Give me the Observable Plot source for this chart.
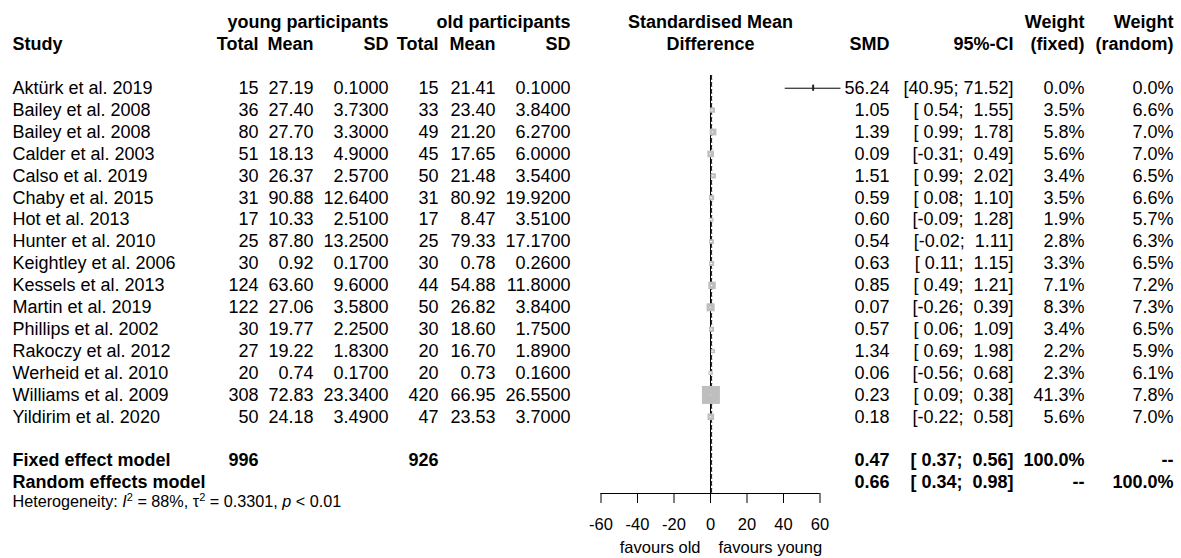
<!DOCTYPE html>
<html><head><meta charset="utf-8">
<script src="https://cdn.jsdelivr.net/npm/d3@7"></script>
<script src="https://cdn.jsdelivr.net/npm/@observablehq/plot@0.6"></script>
<style>
body{margin:0;background:#fff;}
</style>
</head><body><div id="chart"></div>
<script>
// ---------- data ----------
const studies = ["Aktürk et al. 2019","Bailey et al. 2008","Bailey et al. 2008","Calder et al. 2003","Calso et al. 2019","Chaby et al. 2015","Hot et al. 2013","Hunter et al. 2010","Keightley et al. 2006","Kessels et al. 2013","Martin et al. 2019","Phillips et al. 2002","Rakoczy et al. 2012","Werheid et al. 2010","Williams et al. 2009","Yildirim et al. 2020"];
const youngN = [15,36,80,51,30,31,17,25,30,124,122,30,27,20,308,50];
const youngMean = [27.19,27.40,27.70,18.13,26.37,90.88,10.33,87.80,0.92,63.60,27.06,19.77,19.22,0.74,72.83,24.18];
const youngSD = [0.1,3.73,3.3,4.9,2.57,12.64,2.51,13.25,0.17,9.6,3.58,2.25,1.83,0.17,23.34,3.49];
const oldN = [15,33,49,45,50,31,17,25,30,44,50,30,20,20,420,47];
const oldMean = [21.41,23.40,21.20,17.65,21.48,80.92,8.47,79.33,0.78,54.88,26.82,18.60,16.70,0.73,66.95,23.53];
const oldSD = [0.1,3.84,6.27,6.0,3.54,19.92,3.51,17.17,0.26,11.8,3.84,1.75,1.89,0.16,26.55,3.70];
const smd = [56.24,1.05,1.39,0.09,1.51,0.59,0.60,0.54,0.63,0.85,0.07,0.57,1.34,0.06,0.23,0.18];
const ciLow = [40.95,0.54,0.99,-0.31,0.99,0.08,-0.09,-0.02,0.11,0.49,-0.26,0.06,0.69,-0.56,0.09,-0.22];
const ciHigh = [71.52,1.55,1.78,0.49,2.02,1.10,1.28,1.11,1.15,1.21,0.39,1.09,1.98,0.68,0.38,0.58];
const weightFixed = [0.0,3.5,5.8,5.6,3.4,3.5,1.9,2.8,3.3,7.1,8.3,3.4,2.2,2.3,41.3,5.6];
const weightRandom = [0.0,6.6,7.0,7.0,6.5,6.6,5.7,6.3,6.5,7.2,7.3,6.5,5.9,6.1,7.8,7.0];

const summaryLabels = ["Fixed effect model","Random effects model"];
const summaryYoungN = [996, null];
const summaryOldN = [926, null];
const summarySMD = [0.47, 0.66];
const summaryLow = [0.37, 0.34];
const summaryHigh = [0.56, 0.98];
const summaryWeightFixed = ["100.0%", "--"];
const summaryWeightRandom = ["--", "100.0%"];

const heterogeneity = {I2: "88%", tau2: "0.3301", p: "< 0.01"};
const axisTicks = [-60,-40,-20,0,20,40,60];
const axisLabels = ["favours old","favours young"];

// ---------- layout ----------
const W = 1181, H = 558;
const axisY = 493;
const xRange = [600.5, 819.5];
const pxPerUnit = (xRange[1]-xRange[0]) / (axisTicks[axisTicks.length-1]-axisTicks[0]);
const maxSquare = 18;
const cols = {study:12, yN:258, yM:313, ySD:388, oN:438, oM:495, oSD:570, smd:889, ci:1013, wf:1084, wr:1173};
const NB = "\u00A0";
const pad = v => v.toFixed(2).padStart(5, NB);
const ci = (lo, hi) => "[" + pad(lo) + ";" + NB + pad(hi) + "]";

const rows = studies.map((s, i) => {
  const side = Math.sqrt(weightFixed[i] / d3.max(weightFixed)) * maxSquare;
  return {
    row: i, study: s,
    yN: String(youngN[i]), yM: youngMean[i].toFixed(2), ySD: youngSD[i].toFixed(4),
    oN: String(oldN[i]), oM: oldMean[i].toFixed(2), oSD: oldSD[i].toFixed(4),
    smd: smd[i], lo: ciLow[i], hi: ciHigh[i], wf: weightFixed[i],
    smdT: smd[i].toFixed(2), ciT: ci(ciLow[i], ciHigh[i]),
    wfT: weightFixed[i].toFixed(1) + "%", wrT: weightRandom[i].toFixed(1) + "%",
    ciColor: (ciHigh[i]-ciLow[i]) * pxPerUnit < side ? "white" : "black"
  };
});
const nStudies = studies.length;
const sumRows = summaryLabels.map((s, j) => ({
  row: nStudies + 1 + j, study: s,
  yN: summaryYoungN[j] == null ? "" : String(summaryYoungN[j]),
  oN: summaryOldN[j] == null ? "" : String(summaryOldN[j]),
  smdT: summarySMD[j].toFixed(2), ciT: ci(summaryLow[j], summaryHigh[j]),
  wfT: summaryWeightFixed[j], wrT: summaryWeightRandom[j]
}));
const hetRow = nStudies + 2.9;
const head1 = -3, head2 = -2;
const topLine = -0.58;
const axisRow = 18.5;
const favRow = 20.97;

const colText = (data, key, col, anchor, extra = {}) =>
  Plot.text(data, {y: "row", text: key, frameAnchor: "left", dx: cols[col], textAnchor: anchor, ...extra});
const headText = (label, row, col, anchor) =>
  Plot.text([label], {y: () => row, text: d => d, frameAnchor: "left", dx: cols[col], textAnchor: anchor, fontWeight: "bold"});

const plot = Plot.plot({
  width: W, height: H,
  marginTop: 0, marginLeft: 0, marginRight: 0, marginBottom: H - axisY,
  x: {domain: [axisTicks[0], axisTicks[axisTicks.length-1]], range: xRange},
  y: {type: "linear", domain: [head1, axisRow], range: [22, axisY], axis: null},
  r: {type: "sqrt", domain: [0, d3.max(weightFixed)], range: [0, maxSquare / Math.sqrt(Math.PI)]},
  style: {fontFamily: "'Liberation Sans', Arial, Helvetica, sans-serif", fontSize: "18px", background: "white", color: "black"},
  marks: [
    // headers
    headText("young participants", head1, "ySD", "end"),
    headText("old participants", head1, "oSD", "end"),
    Plot.text(["Standardised Mean"], {x: 0, y: () => head1, text: d => d, fontWeight: "bold"}),
    Plot.text(["Difference"], {x: 0, y: () => head2, text: d => d, fontWeight: "bold"}),
    headText("Weight", head1, "wf", "end"),
    headText("Weight", head1, "wr", "end"),
    headText("Study", head2, "study", "start"),
    headText("Total", head2, "yN", "end"),
    headText("Mean", head2, "yM", "end"),
    headText("SD", head2, "ySD", "end"),
    headText("Total", head2, "oN", "end"),
    headText("Mean", head2, "oM", "end"),
    headText("SD", head2, "oSD", "end"),
    headText("SMD", head2, "smd", "end"),
    headText("95%-CI", head2, "ci", "end"),
    headText("(fixed)", head2, "wf", "end"),
    headText("(random)", head2, "wr", "end"),
    // study rows
    colText(rows, "study", "study", "start"),
    colText(rows, "yN", "yN", "end"),
    colText(rows, "yM", "yM", "end"),
    colText(rows, "ySD", "ySD", "end"),
    colText(rows, "oN", "oN", "end"),
    colText(rows, "oM", "oM", "end"),
    colText(rows, "oSD", "oSD", "end"),
    colText(rows, "smdT", "smd", "end"),
    colText(rows, "ciT", "ci", "end"),
    colText(rows, "wfT", "wf", "end"),
    colText(rows, "wrT", "wr", "end"),
    // summary rows
    colText(sumRows, "study", "study", "start", {fontWeight: "bold"}),
    colText(sumRows, "yN", "yN", "end", {fontWeight: "bold"}),
    colText(sumRows, "oN", "oN", "end", {fontWeight: "bold"}),
    colText(sumRows, "smdT", "smd", "end", {fontWeight: "bold"}),
    colText(sumRows, "ciT", "ci", "end", {fontWeight: "bold"}),
    colText(sumRows, "wfT", "wf", "end", {fontWeight: "bold"}),
    colText(sumRows, "wrT", "wr", "end", {fontWeight: "bold"}),
    Plot.text(["het"], {y: () => hetRow, text: d => d, frameAnchor: "left", dx: cols.study, textAnchor: "start", fontSize: 16.2, className: "het"}),
    // forest
    Plot.ruleX([0], {y1: topLine, y2: axisRow, stroke: "black", strokeWidth: 1}),
    Plot.ruleX([summarySMD[0]], {y1: topLine, y2: axisRow, stroke: "black", strokeDasharray: "4,3"}),
    Plot.ruleX([summarySMD[1]], {y1: topLine, y2: axisRow, stroke: "#333", strokeDasharray: "1.5,2"}),
    Plot.dot(rows, {x: "smd", y: "row", r: "wf", symbol: "square", fill: "#bebebe", stroke: "none"}),
    Plot.ruleY(rows, {y: "row", x1: "lo", x2: "hi", stroke: d => d.ciColor, strokeWidth: 1}),
    Plot.ruleX(rows.filter(d => d.wf === 0), {x: "smd", y1: d => d.row - 0.14, y2: d => d.row + 0.14, stroke: "#222", strokeWidth: 2}),
    // axis
    Plot.ruleY([axisRow], {x1: axisTicks[0], x2: axisTicks[axisTicks.length-1], stroke: "black"}),
    Plot.axisX({ticks: axisTicks, tickSize: 10, tickPadding: 15, tickFormat: d => String(d), fontSize: 16.5, label: null, stroke: "black"}),
    Plot.text([axisLabels[0]], {x: 0, y: () => favRow, text: d => d, textAnchor: "end", dx: -10, fontSize: 16.5}),
    Plot.text([axisLabels[1]], {x: 0, y: () => favRow, text: d => d, textAnchor: "start", dx: 8, fontSize: 16.5})
  ]
});
document.getElementById("chart").appendChild(plot);

// heterogeneity with italics and superscripts
const ht = plot.querySelector(".het text");
if (ht) {
  ht.textContent = "";
  const ns = "http://www.w3.org/2000/svg";
  const add = (s, o = {}) => {
    const t = document.createElementNS(ns, "tspan");
    t.textContent = s;
    for (const k in o) t.setAttribute(k, o[k]);
    ht.appendChild(t);
  };
  add("Heterogeneity: ");
  add("I", {"font-style": "italic"});
  add("2", {"font-size": "11", dy: "-6"});
  add(" = " + heterogeneity.I2 + ", τ", {dy: "6"});
  add("2", {"font-size": "11", dy: "-6"});
  add(" = " + heterogeneity.tau2 + ", ", {dy: "6"});
  add("p", {"font-style": "italic"});
  add(" " + heterogeneity.p);
}
</script>
</body></html>
